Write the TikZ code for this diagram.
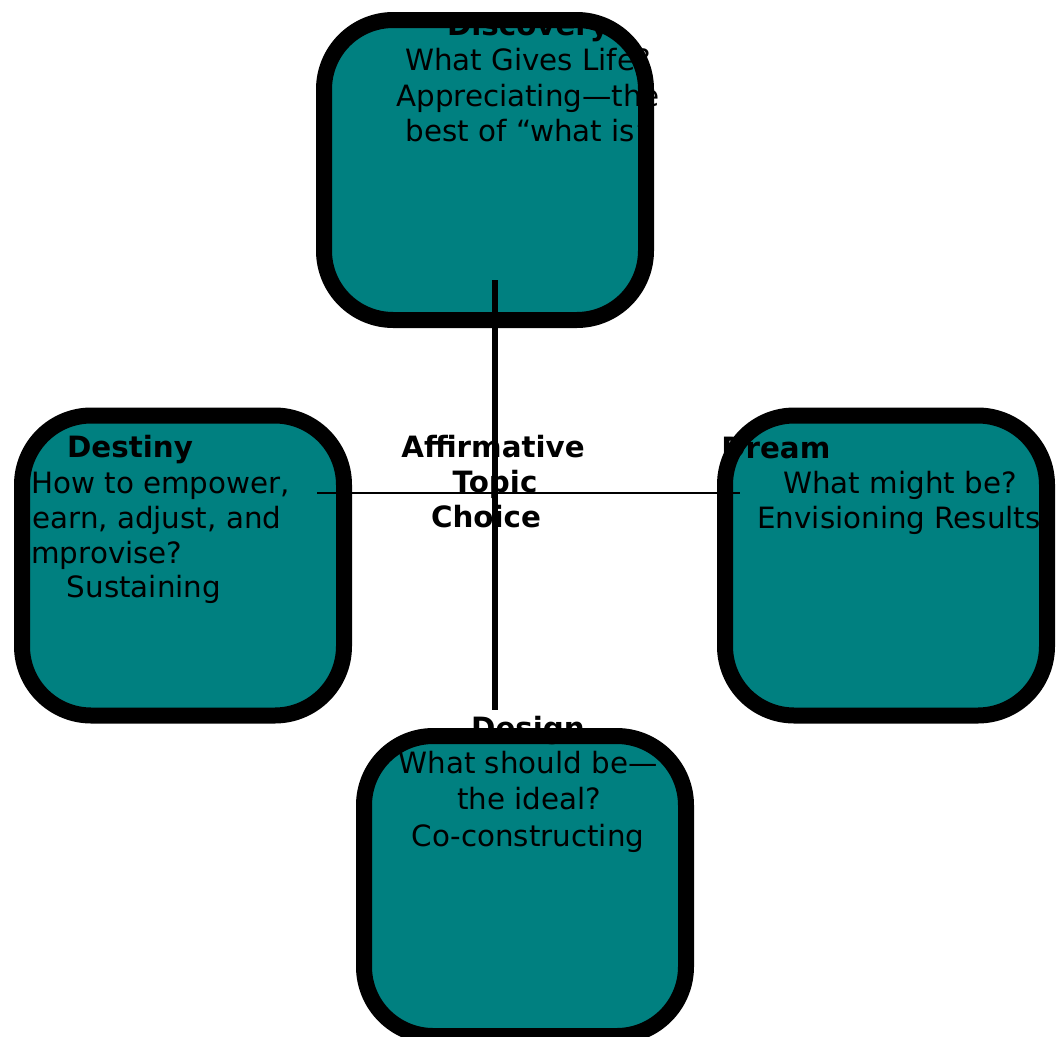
\documentclass[tikz,border=0pt]{standalone}
\usepackage{fontspec}
\setmainfont{DejaVu Sans}
\definecolor{tealfill}{RGB}{0,128,128}
\begin{document}
\begin{tikzpicture}[x=0.75pt,y=-0.75pt,
  phase/.style={draw=black,line width=12pt,fill=tealfill,rectangle,rounded corners=52pt,
    minimum width=241.5pt,minimum height=225pt,inner sep=0pt},
  txt/.style={font=\fontsize{22}{26}\selectfont,inner sep=0pt,text=black},
  ttl/.style={font=\fontsize{22}{26}\selectfont\bfseries,inner sep=0pt,text=black},
  axisv/.style={line width=5pt,black},
  axish/.style={line width=1.9pt,black}]
\useasboundingbox (0,0) rectangle (1056,1036);
% boxes
\node[phase] (disc) at (485,170) {};
\node[phase] (dest) at (183,565.5) {};
\node[phase] (dream) at (886,565.5) {};
\node[phase] (design) at (525,886) {};
% Discovery text
\node[ttl,anchor=base] (discT) at (528,35) {Discovery};
\node[txt,anchor=base] (disc1) at (528,70.5) {What Gives Life?};
\node[txt,anchor=base] (disc2) at (528,106) {Appreciating—the};
\node[txt,anchor=base] (disc3) at (528,141.5) {best of “what is”};
% Destiny text
\node[ttl,anchor=base] (destT) at (130,457) {Destiny};
\node[txt,anchor=base west] (dest1) at (31,493) {How to empower,};
\node[txt,anchor=base west] (dest2) at (24,528) {learn, adjust, and};
\node[txt,anchor=base west] (dest3) at (23,563) {improvise?};
\node[txt,anchor=base] (dest4) at (144,597) {Sustaining};
% Dream text
\node[ttl,anchor=base west] (dreamT) at (721,458) {Dream};
\node[txt,anchor=base] (dream1) at (900,493) {What might be?};
\node[txt,anchor=base] (dream2) at (899,528) {Envisioning Results};
% Design text
\node[ttl,anchor=base] (designT) at (528,738) {Design};
\node[txt,anchor=base] (design1) at (528,773) {What should be—};
\node[txt,anchor=base] (design2) at (529,809.5) {the ideal?};
\node[txt,anchor=base] (design3) at (528,846) {Co-constructing};
% center text
\node[ttl,anchor=base] (aff1) at (493,457) {Affirmative};
\node[ttl,anchor=base] (aff2) at (495,492) {Topic};
\node[ttl,anchor=base] (aff3) at (486,527) {Choice};
% axes
\coordinate (vtop) at (495,280);
\coordinate (vbot) at (495,710);
\coordinate (hleft) at (317,493);
\coordinate (hright) at (740,493);
\draw[axisv] (vtop) -- (vbot);
\draw[axish] (hleft) -- (hright);
\end{tikzpicture}
\end{document}
